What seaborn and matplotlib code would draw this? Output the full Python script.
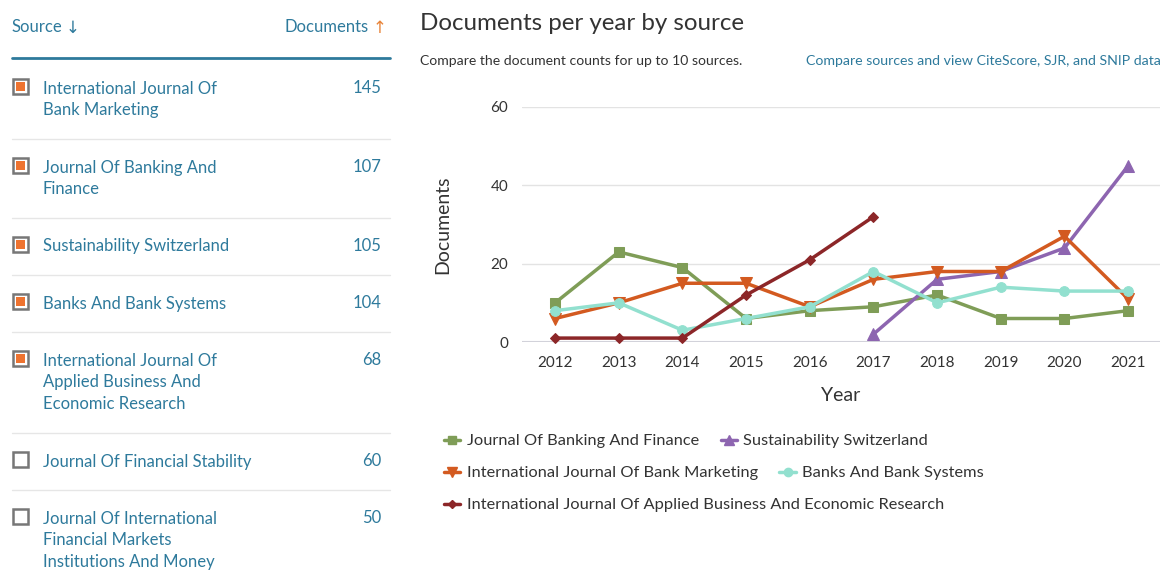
# Documents per year by source (Scopus style compare view)
import pandas as pd
import seaborn as sns
import matplotlib.pyplot as plt
from matplotlib.lines import Line2D
from matplotlib.patches import Rectangle

# ---- data ----
years = list(range(2012, 2022))
banking_finance = [10, 23, 19, 6, 8, 9, 12, 6, 6, 8]
sustain_years = [2017, 2018, 2019, 2020, 2021]
sustainability = [2, 16, 18, 24, 45]
bank_marketing = [6, 10, 15, 15, 9, 16, 18, 18, 27, 11]
bank_systems = [8, 10, 3, 6, 9, 18, 10, 14, 13, 13]
ijaber_years = [2012, 2013, 2014, 2015, 2016, 2017]
ijaber = [1, 1, 1, 12, 21, 32]

source_names = [
    "International Journal Of\nBank Marketing",
    "Journal Of Banking And\nFinance",
    "Sustainability Switzerland",
    "Banks And Bank Systems",
    "International Journal Of\nApplied Business And\nEconomic Research",
    "Journal Of Financial Stability",
    "Journal Of International\nFinancial Markets\nInstitutions And Money",
]
source_counts = [145, 107, 105, 104, 68, 60, 50]
source_checked = [True, True, True, True, True, False, False]

BLUE = "#2e7a9c"
DARK = "#333333"

series = [
    ("Journal Of Banking And Finance", years, banking_finance, "#7f9d57", "s", 7),
    ("Sustainability Switzerland", sustain_years, sustainability, "#8d65b0", "^", 8),
    ("International Journal Of Bank Marketing", years, bank_marketing, "#d35a20", "v", 8),
    ("Banks And Bank Systems", years, bank_systems, "#92e0cf", "o", 7),
    ("International Journal Of Applied Business And Economic Research",
     ijaber_years, ijaber, "#8c2628", "D", 5.5),
]

sns.set_style("white")
plt.rcParams["font.family"] = ["Lato", "DejaVu Sans"]

W, H = 1163, 572
fig = plt.figure(figsize=(W / 100, H / 100), dpi=100)


def fx(px):
    return px / W


def fy(py):
    return 1 - py / H


# ---- left table ----
fig.text(fx(12), fy(27), "Source", color=BLUE, fontsize=12, va="center")
fig.text(fx(66), fy(28), "\u2193", color=BLUE, fontsize=12, va="center",
         family=["DejaVu Sans"])
fig.text(fx(369), fy(27), "Documents", color=BLUE, fontsize=12, va="center", ha="right")
fig.text(fx(380), fy(28), "\u2191", color="#e8843a", fontsize=12, va="center",
         ha="center", family=["DejaVu Sans"])
fig.add_artist(Line2D([fx(12), fx(390)], [fy(58), fy(58)], color=BLUE, lw=2))

row_tops = [88, 167, 246, 303, 360, 461, 518]
row_seps = [139, 218, 275, 332, 433, 490]
for top, name, cnt, chk in zip(row_tops, source_names, source_counts, source_checked):
    fig.add_artist(Rectangle((fx(13), fy(top + 6)), fx(15), 15 / H,
                             facecolor="white", edgecolor="#777777", lw=1.8))
    if chk:
        fig.add_artist(Rectangle((fx(16), fy(top + 3)), fx(9), 9 / H,
                                 facecolor="#ee7330", edgecolor="none"))
    fig.text(fx(43), fy(top - 7.5), name, color=BLUE, fontsize=12, va="top",
             linespacing=1.45)
    fig.text(fx(381), fy(top), str(cnt), color=BLUE, fontsize=12, va="center", ha="right")
for sep in row_seps:
    fig.add_artist(Line2D([fx(12), fx(390)], [fy(sep), fy(sep)], color="#e6e6e6", lw=1))

# ---- titles ----
fig.text(fx(420), fy(23), "Documents per year by source", color=DARK, fontsize=17.4, va="center")
fig.text(fx(420), fy(61), "Compare the document counts for up to 10 sources.",
         color=DARK, fontsize=10.1, va="center")
fig.text(fx(1161), fy(61), "Compare sources and view CiteScore, SJR, and SNIP data",
         color=BLUE, fontsize=10.2, va="center", ha="right")

# ---- chart ----
ax = fig.add_axes([fx(522), fy(342), fx(1160) - fx(522), (342 - 107) / H])
handles = []
for label, xs, ys, color, marker, ms in series:
    df = pd.DataFrame({"Year": xs, "Documents": ys})
    sns.lineplot(data=df, x="Year", y="Documents", ax=ax, color=color, lw=2.5,
                 marker=marker, markersize=ms, markeredgecolor=color, clip_on=False)
    handles.append(Line2D([], [], color=color, lw=2.5, marker=marker, markersize=ms - 1,
                          markeredgecolor=color))

ax.set_xlim(2011.48, 2021.5)
ax.set_ylim(0, 60)
ax.set_xticks(years)
ax.set_yticks([0, 20, 40, 60])
ax.grid(axis="y", color="#e3e3e3", lw=1)
ax.axhline(0, color="#cfcfd8", lw=1.5, zorder=0)
sns.despine(ax=ax, left=True, bottom=True)
ax.tick_params(axis="both", length=0, labelsize=11, labelcolor=DARK)
ax.tick_params(axis="x", pad=10)
ax.tick_params(axis="y", pad=10)
ax.set_xlabel("Year", fontsize=14, color=DARK, labelpad=12)
ax.set_ylabel("Documents", fontsize=14, color=DARK, labelpad=28)

# ---- legend rows ----
rows = [[0, 1], [2, 3], [4]]
row_y = [441, 473, 505]
for idx, yy in zip(rows, row_y):
    fig.legend([handles[i] for i in idx], [series[i][0] for i in idx],
               ncol=len(idx), loc="center left", bbox_to_anchor=(fx(444), fy(yy)),
               frameon=False, fontsize=11.8, handlelength=1.0, handletextpad=0.4,
               columnspacing=1.3, labelcolor=DARK, borderaxespad=0, borderpad=0)

fig.savefig("out.png", dpi=100)
